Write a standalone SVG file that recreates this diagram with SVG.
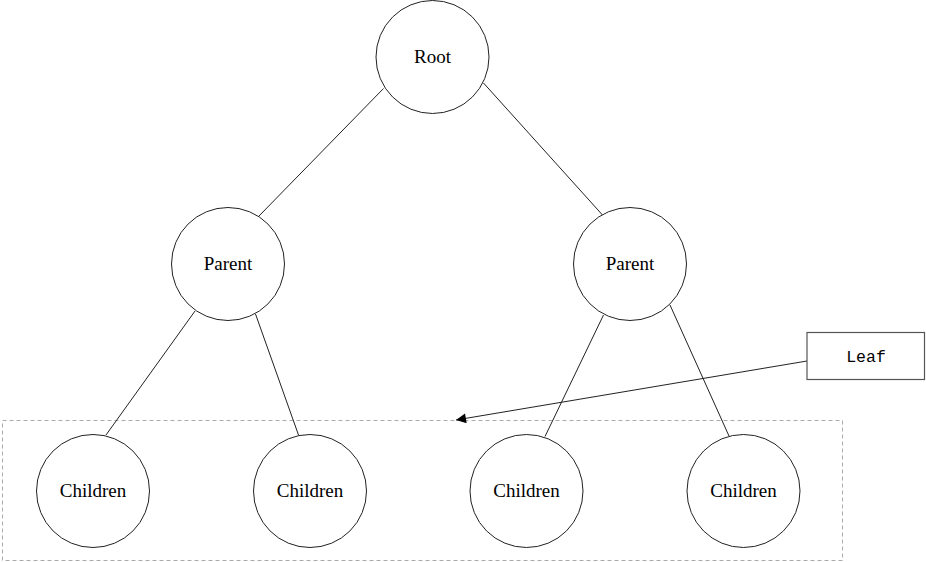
<svg xmlns="http://www.w3.org/2000/svg" width="926" height="562" viewBox="0 0 926 562">
<defs>
<marker id="arr" viewBox="0 0 10 10" refX="10" refY="5" markerWidth="17" markerHeight="10" markerUnits="userSpaceOnUse" orient="auto">
<path d="M0,0 L10,5 L0,10 z" fill="#000"/>
</marker>
<style>
.node circle{fill:#fff;stroke:#222;stroke-width:1}
.node text{font-family:"Liberation Serif","Times New Roman",serif;font-size:19px;fill:#000;text-anchor:middle}
.edge{stroke:#222;stroke-width:1;fill:none}
.group{fill:none;stroke:#aaa;stroke-width:1;stroke-dasharray:4,3}
.leaf rect{fill:#fff;stroke:#555;stroke-width:1.2}
.leaf text{font-family:"Liberation Mono","Courier New",monospace;font-size:16.5px;fill:#000;text-anchor:middle}
</style>
</defs>
<rect width="926" height="562" fill="#fff"/>
<rect id="leafGroup" class="group" x="2.5" y="420.5" width="840" height="140"/>
<g id="connectors">
<line class="edge" x1="383.5" y1="88.5" x2="258.5" y2="216.5"/>
<line class="edge" x1="483.5" y1="83" x2="602.5" y2="215"/>
<line class="edge" x1="195" y1="311" x2="106" y2="435"/>
<line class="edge" x1="255.5" y1="314" x2="298.5" y2="435"/>
<line class="edge" x1="603.5" y1="315" x2="545" y2="436.5"/>
<line class="edge" x1="670" y1="305" x2="729" y2="436"/>
<line class="edge" x1="807" y1="361" x2="456" y2="420" marker-end="url(#arr)"/>
</g>
<g id="root" class="node"><circle cx="432.5" cy="57" r="56.5"/><text x="432.5" y="63">Root</text></g>
<g id="parentL" class="node"><circle cx="228" cy="264" r="56.5"/><text x="228" y="270">Parent</text></g>
<g id="parentR" class="node"><circle cx="630" cy="264" r="56.5"/><text x="630" y="270">Parent</text></g>
<g id="child1" class="node"><circle cx="93" cy="491" r="56.5"/><text x="93" y="497">Children</text></g>
<g id="child2" class="node"><circle cx="310" cy="491" r="56.5"/><text x="310" y="497">Children</text></g>
<g id="child3" class="node"><circle cx="526.5" cy="491" r="56.5"/><text x="526.5" y="497">Children</text></g>
<g id="child4" class="node"><circle cx="743.5" cy="491" r="56.5"/><text x="743.5" y="497">Children</text></g>
<g id="leaf" class="leaf"><rect x="807" y="332.5" width="117.5" height="47"/><text x="866" y="361.5">Leaf</text></g>
</svg>
